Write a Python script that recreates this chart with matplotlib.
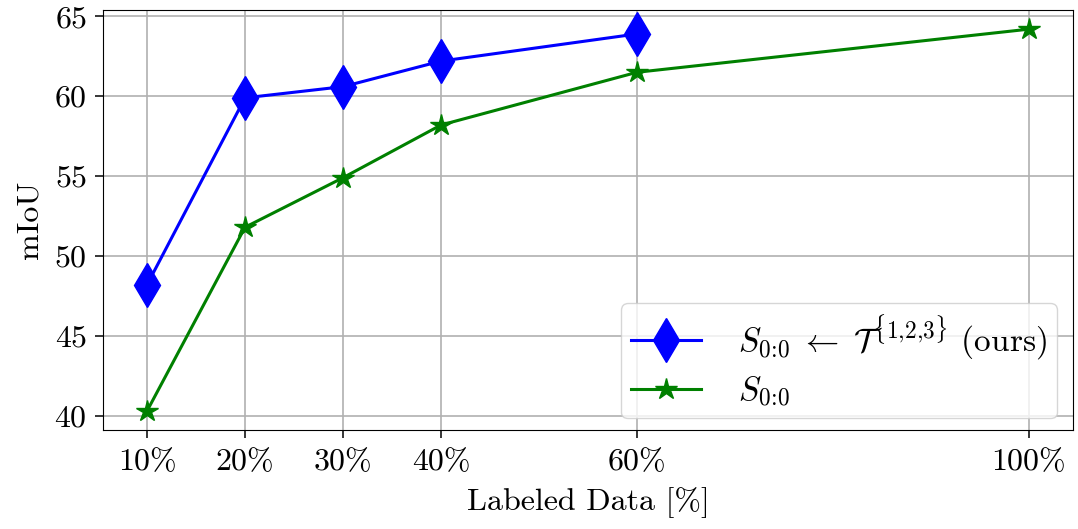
import matplotlib
matplotlib.use('Agg')
import matplotlib.pyplot as plt

plt.rcParams['font.family'] = 'cmr10'
plt.rcParams['mathtext.fontset'] = 'cm'
plt.rcParams['axes.formatter.use_mathtext'] = True

# labeled data fraction (%)
ours_x = [10, 20, 30, 40, 60]
ours_miou = [48.2, 59.9, 60.6, 62.2, 63.9]

base_x = [10, 20, 30, 40, 60, 100]
base_miou = [40.3, 51.8, 54.9, 58.2, 61.5, 64.2]

xticks = [10, 20, 30, 40, 60, 100]
xtick_labels = ['10%', '20%', '30%', '40%', '60%', '100%']
yticks = [40, 45, 50, 55, 60, 65]

fig, ax = plt.subplots(figsize=(10.78, 5.29), dpi=100)
fig.subplots_adjust(left=0.0955, right=0.9954, top=0.981, bottom=0.187)

ax.plot(ours_x, ours_miou, color='blue', marker='d', markersize=22, linewidth=2.2,
        label=r'$S_{0\!:\!0} \;\leftarrow\; \mathcal{T}^{\{1{,}2{,}3\}}$ (ours)')
ax.plot(base_x, base_miou, color='green', marker='*', markersize=16, linewidth=2.2,
        label=r'$S_{0\!:\!0}$')

ax.set_xticks(xticks)
ax.set_xticklabels(xtick_labels)
ax.set_yticks(yticks)
ax.tick_params(labelsize=23, length=5.5, width=1.1)
ax.tick_params(axis='x', pad=8)
ax.tick_params(axis='y', pad=6)
ax.set_xlabel('Labeled Data [%]', fontsize=23, labelpad=8)
ax.set_ylabel('mIoU', fontsize=23, labelpad=8)
ax.grid(True, color='#b0b0b0', linewidth=1.2)
leg = ax.legend(loc='lower right', fontsize=24, borderpad=0.3, labelspacing=0.35,
                borderaxespad=0.35, handlelength=2.1, handletextpad=1.1,
                bbox_to_anchor=(0.995, 0.0))

fig.savefig('out.png', dpi=100)
